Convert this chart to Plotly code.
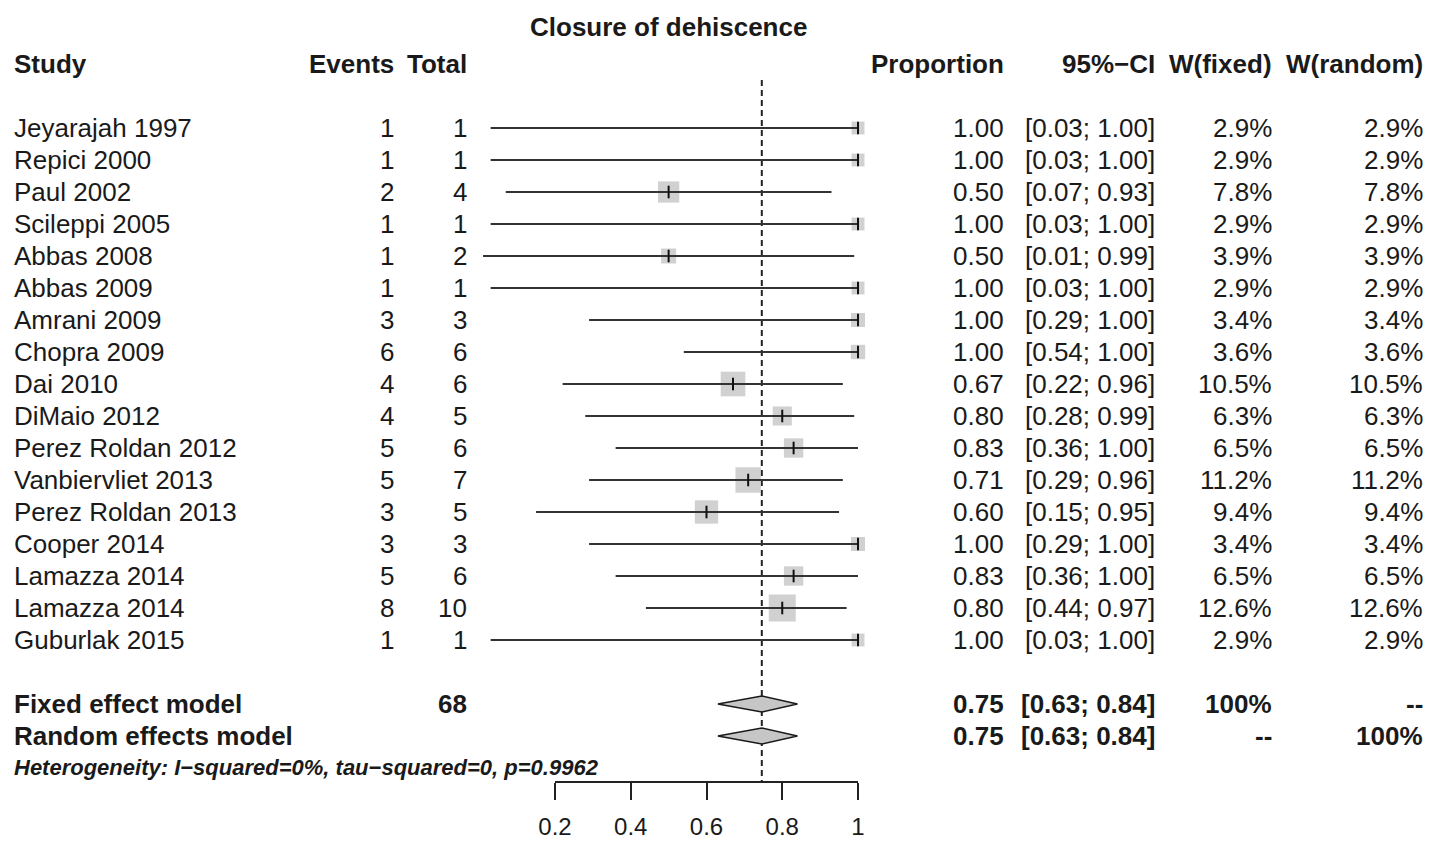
import plotly.graph_objects as go

# ---------------- data ----------------
studies = ["Jeyarajah 1997", "Repici 2000", "Paul 2002", "Scileppi 2005", "Abbas 2008",
           "Abbas 2009", "Amrani 2009", "Chopra 2009", "Dai 2010", "DiMaio 2012",
           "Perez Roldan 2012", "Vanbiervliet 2013", "Perez Roldan 2013", "Cooper 2014",
           "Lamazza 2014", "Lamazza 2014", "Guburlak 2015"]
events = [1, 1, 2, 1, 1, 1, 3, 6, 4, 4, 5, 5, 3, 3, 5, 8, 1]
totals = [1, 1, 4, 1, 2, 1, 3, 6, 6, 5, 6, 7, 5, 3, 6, 10, 1]
proportion = [1.00, 1.00, 0.50, 1.00, 0.50, 1.00, 1.00, 1.00, 0.67, 0.80, 0.83, 0.71,
              0.60, 1.00, 0.83, 0.80, 1.00]
ci_lower = [0.03, 0.03, 0.07, 0.03, 0.01, 0.03, 0.29, 0.54, 0.22, 0.28, 0.36, 0.29,
            0.15, 0.29, 0.36, 0.44, 0.03]
ci_upper = [1.00, 1.00, 0.93, 1.00, 0.99, 1.00, 1.00, 1.00, 0.96, 0.99, 1.00, 0.96,
            0.95, 1.00, 1.00, 0.97, 1.00]
w_fixed = [2.9, 2.9, 7.8, 2.9, 3.9, 2.9, 3.4, 3.6, 10.5, 6.3, 6.5, 11.2, 9.4, 3.4, 6.5, 12.6, 2.9]
w_random = [2.9, 2.9, 7.8, 2.9, 3.9, 2.9, 3.4, 3.6, 10.5, 6.3, 6.5, 11.2, 9.4, 3.4, 6.5, 12.6, 2.9]

total_n = 68
pooled_est = 0.746
pooled_lower = 0.63
pooled_upper = 0.84
pooled_text = "0.75"
pooled_ci_text = "[0.63; 0.84]"

tick_vals = [0.2, 0.4, 0.6, 0.8, 1.0]
tick_text = ["0.2", "0.4", "0.6", "0.8", "1"]

title = "Closure of dehiscence"
heterogeneity = "Heterogeneity: I\u2212squared=0%, tau\u2212squared=0, p=0.9962"

# ---------------- layout helpers ----------------
W, H = 1431, 841
X0, SCALE = 479.25, 378.75          # pixel of value 0, pixels per unit
ROW0, STEP = 128.0, 32.0            # pixel of first row, pixels per row

def pxx(v):
    return X0 + v * SCALE

FONT = "Liberation Sans, Arial, sans-serif"
TXT = "#1a1a1a"
FS = 26

n = len(studies)
rows = list(range(n))
row_fixed = n + 1
row_random = n + 2
row_het = n + 3
row_header = -2
row_title = -3.16
row_axis = (781.5 - ROW0) / STEP

fig = go.Figure()

# dashed reference line (pooled estimate)
fig.add_trace(go.Scatter(x=[pooled_est, pooled_est], y=[-1.5, row_axis], mode="lines",
                         line=dict(color="#222222", width=2, dash="6px,4px"),
                         hoverinfo="skip", showlegend=False))

# study squares (area proportional to weight)
fig.add_trace(go.Scatter(x=proportion, y=rows, mode="markers",
                         marker=dict(symbol="square", color="#bdbdbd",
                                     size=[7.6 * w ** 0.5 for w in w_fixed],
                                     line=dict(width=0)),
                         hoverinfo="skip", showlegend=False, cliponaxis=False))

# confidence interval lines
cx, cy = [], []
for lo, hi, r in zip(ci_lower, ci_upper, rows):
    cx += [lo, hi, None]
    cy += [r, r, None]
fig.add_trace(go.Scatter(x=cx, y=cy, mode="lines", line=dict(color="#333333", width=2.2),
                         hoverinfo="skip", showlegend=False))

# point estimate ticks
fig.add_trace(go.Scatter(x=proportion, y=rows, mode="markers",
                         marker=dict(symbol="line-ns", size=9,
                                     line=dict(color="#111111", width=2)),
                         hoverinfo="skip", showlegend=False, cliponaxis=False))

# diamonds
for r in (row_fixed, row_random):
    fig.add_trace(go.Scatter(x=[pooled_lower, pooled_est, pooled_upper, pooled_est, pooled_lower],
                             y=[r, r - 0.25, r, r + 0.25, r], mode="lines", fill="toself",
                             fillcolor="#c6c6c6", line=dict(color="#1a1a1a", width=1.5),
                             hoverinfo="skip", showlegend=False))

# dummy trace for display axis
fig.add_trace(go.Scatter(x=[tick_vals[0], tick_vals[-1]], y=[row_axis, row_axis], xaxis="x2",
                         yaxis="y", mode="markers", marker=dict(opacity=0),
                         hoverinfo="skip", showlegend=False))

# ---------------- text ----------------
ann = []

def txt(x_pix, row, s, anchor="left", bold=False, size=FS, italic=False):
    if italic:
        s = "<i>" + s + "</i>"
    if bold:
        s = "<b>" + s + "</b>"
    ann.append(dict(x=x_pix / W, y=row, xref="paper", yref="y", text=s, showarrow=False,
                    xanchor=anchor, yanchor="middle",
                    font=dict(family=FONT, size=size, color=TXT)))

COL_STUDY = 12
COL_EVENTS = 396
COL_TOTAL = 469
COL_PROP = 1006
COL_CI = 1157
COL_WF = 1274
COL_WR = 1425

txt(668.5, row_title, title, anchor="center", bold=True)
txt(COL_STUDY, row_header, "Study", bold=True)
txt(COL_EVENTS, row_header, "Events", anchor="right", bold=True)
txt(COL_TOTAL, row_header, "Total", anchor="right", bold=True)
txt(COL_PROP, row_header, "Proportion", anchor="right", bold=True)
txt(COL_CI, row_header, "95%\u2212CI", anchor="right", bold=True)
txt(COL_WF, row_header, "W(fixed)", anchor="right", bold=True)
txt(COL_WR, row_header, "W(random)", anchor="right", bold=True)

for i in range(n):
    txt(COL_STUDY, rows[i], studies[i])
    txt(COL_EVENTS, rows[i], str(events[i]), anchor="right")
    txt(COL_TOTAL, rows[i], str(totals[i]), anchor="right")
    txt(COL_PROP, rows[i], f"{proportion[i]:.2f}", anchor="right")
    txt(COL_CI, rows[i], f"[{ci_lower[i]:.2f}; {ci_upper[i]:.2f}]", anchor="right")
    txt(COL_WF, rows[i], f"{w_fixed[i]:.1f}%", anchor="right")
    txt(COL_WR, rows[i], f"{w_random[i]:.1f}%", anchor="right")

txt(COL_STUDY, row_fixed, "Fixed effect model", bold=True)
txt(COL_TOTAL, row_fixed, str(total_n), anchor="right", bold=True)
txt(COL_PROP, row_fixed, pooled_text, anchor="right", bold=True)
txt(COL_CI, row_fixed, pooled_ci_text, anchor="right", bold=True)
txt(COL_WF, row_fixed, "100%", anchor="right", bold=True)
txt(COL_WR, row_fixed, "--", anchor="right", bold=True)

txt(COL_STUDY, row_random, "Random effects model", bold=True)
txt(COL_PROP, row_random, pooled_text, anchor="right", bold=True)
txt(COL_CI, row_random, pooled_ci_text, anchor="right", bold=True)
txt(COL_WF, row_random, "--", anchor="right", bold=True)
txt(COL_WR, row_random, "100%", anchor="right", bold=True)

txt(COL_STUDY, row_het - 0.03, heterogeneity, bold=True, italic=True, size=22)

# ---------------- layout ----------------
fig.update_layout(
    width=W, height=H,
    margin=dict(l=0, r=0, t=0, b=0, autoexpand=False),
    paper_bgcolor="white", plot_bgcolor="rgba(0,0,0,0)",
    showlegend=False,
    annotations=ann,
    xaxis=dict(domain=[0, 1], range=[-X0 / SCALE, (W - X0) / SCALE], visible=False,
               fixedrange=True, automargin=False),
    xaxis2=dict(domain=[pxx(tick_vals[0]) / W, pxx(tick_vals[-1]) / W],
                range=[tick_vals[0], tick_vals[-1]], anchor="free",
                position=1 - 781.5 / H, side="bottom", automargin=False,
                showline=True, linecolor="#222222", linewidth=2,
                ticks="outside", ticklen=17, tickwidth=2, tickcolor="#222222",
                tickvals=tick_vals, ticktext=tick_text, ticklabelstandoff=7,
                tickfont=dict(family=FONT, size=24, color=TXT),
                showgrid=False, zeroline=False, fixedrange=True),
    yaxis=dict(domain=[0, 1], range=[(H - ROW0) / STEP, -ROW0 / STEP], visible=False,
               fixedrange=True, automargin=False),
)

fig.write_html("out.html", config={"displayModeBar": False},
               post_script="document.body.style.margin='0';document.body.style.overflow='hidden';")
